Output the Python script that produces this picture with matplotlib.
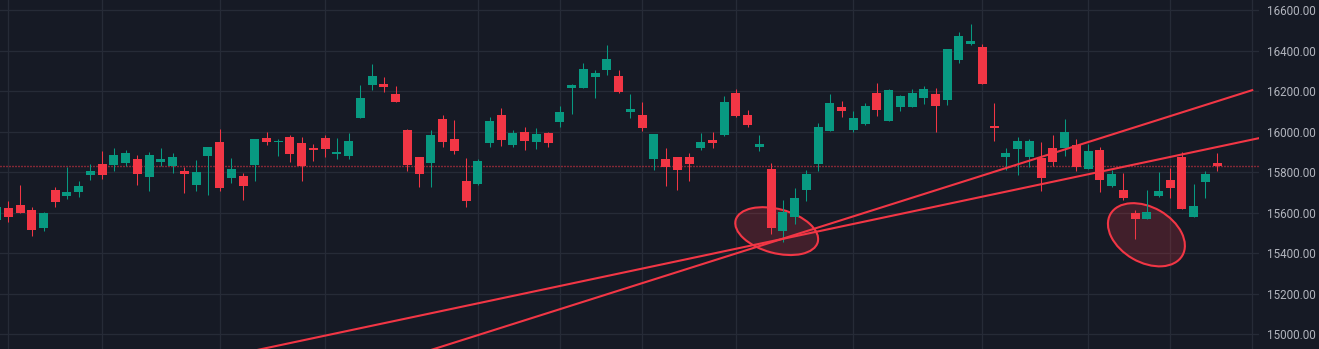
import matplotlib
matplotlib.use("Agg")
import matplotlib.pyplot as plt
import matplotlib.transforms as mtransforms
from matplotlib.patches import Ellipse
import numpy as np

# ---- data ----
opens = [15564, 15624, 15638, 15614, 15525, 15712, 15683, 15703, 15786, 15841,
         15836, 15845, 15865, 15776, 15850, 15832, 15806, 15737, 15880, 15949,
         15771, 15781, 15836, 15969, 15949, 15974, 15944, 15919, 15969, 15890,
         15880, 16067, 16230, 16235, 16186, 16008, 15875, 15845, 16062, 15964,
         15757, 15742, 15944, 16082, 15934, 15998, 15949, 15993, 16048, 16215,
         16215, 16269, 16304, 16274, 16097, 16082, 15865, 15865, 15875, 15875,
         15919, 15959, 15984, 16190, 16082, 15924, 15816, 15510, 15579, 15712,
         15841, 16003, 16121, 16008, 16038, 16190, 16052, 16121, 16121, 16166,
         16186, 16156, 16353, 16432, 16417, 16028, 15875, 15914, 15875, 15870,
         15919, 15919, 15934, 15816, 15910, 15732, 15712, 15599, 15569, 15683,
         15762, 15875, 15579, 15752, 15845]
highs = [15640, 15658, 15737, 15629, 15604, 15727, 15826, 15757, 15841, 15905,
         15919, 15910, 15885, 15900, 15919, 15895, 15826, 15860, 15924, 16013,
         15870, 15796, 15964, 15998, 15964, 15984, 15974, 15939, 15984, 15969,
         15993, 16230, 16334, 16269, 16225, 16013, 15875, 16008, 16082, 16057,
         15870, 15865, 16072, 16117, 16008, 16023, 16018, 15998, 16126, 16235,
         16338, 16304, 16427, 16304, 16186, 16146, 15988, 15919, 15875, 15895,
         15993, 15998, 16176, 16210, 16107, 15984, 15845, 15663, 15722, 15811,
         16043, 16186, 16151, 16102, 16141, 16240, 16210, 16181, 16210, 16225,
         16215, 16407, 16491, 16531, 16432, 16141, 15919, 15974, 15964, 15949,
         15984, 16062, 15964, 15939, 15924, 15811, 15796, 15614, 15712, 15801,
         15821, 15900, 15742, 15806, 15895]
lows = [15550, 15555, 15599, 15486, 15510, 15629, 15668, 15678, 15762, 15767,
        15806, 15831, 15737, 15707, 15831, 15796, 15698, 15707, 15688, 15707,
        15747, 15663, 15757, 15934, 15880, 15850, 15757, 15855, 15875, 15865,
        15865, 16067, 16205, 16195, 16146, 15806, 15727, 15727, 15924, 15890,
        15629, 15737, 15924, 15929, 15924, 15910, 15914, 15924, 16023, 16087,
        16215, 16166, 16279, 16190, 16067, 16003, 15811, 15732, 15712, 15757,
        15910, 15919, 15979, 16072, 16023, 15905, 15495, 15456, 15545, 15658,
        15806, 16003, 16072, 15998, 16033, 16077, 16052, 16102, 16121, 16136,
        15998, 16131, 16338, 16427, 16235, 15954, 15811, 15786, 15826, 15707,
        15831, 15880, 15806, 15816, 15703, 15727, 15663, 15471, 15569, 15678,
        15673, 15619, 15579, 15673, 15806]
closes = [15630, 15579, 15599, 15515, 15599, 15653, 15703, 15732, 15806, 15786,
          15885, 15895, 15791, 15885, 15865, 15875, 15791, 15801, 15924, 15722,
          15816, 15732, 15964, 15949, 15954, 15890, 15831, 15910, 15914, 15900,
          15954, 16166, 16274, 16220, 16146, 15836, 15791, 15984, 15949, 15905,
          15658, 15855, 16052, 15959, 15993, 15954, 15988, 15944, 16097, 16230,
          16309, 16289, 16358, 16195, 16112, 16018, 15988, 15826, 15811, 15841,
          15949, 15944, 16146, 16077, 16033, 15939, 15525, 15604, 15673, 15791,
          16023, 16141, 16102, 16067, 16126, 16107, 16205, 16176, 16190, 16210,
          16126, 16407, 16472, 16447, 16235, 16018, 15895, 15954, 15954, 15771,
          15850, 15998, 15826, 15905, 15762, 15791, 15673, 15569, 15604, 15707,
          15722, 15619, 15633, 15791, 15831]

price_ticks = [15000, 15200, 15400, 15600, 15800, 16000, 16200, 16400, 16600]
time_grid_bars = [1, 9, 19, 28, 41, 48, 55, 63, 73, 84, 93, 100, 107]

# trend lines: (bar, price) endpoints
trend_a = [(20, 14611), (107.07, 16206)]
trend_b = [(10, 14773), (112, 16022)]
# ellipses: center (bar, price), size in pixels, angle
ellipse_centers = [(66.47, 15509), (97.97, 15491)]
ellipse_sizes = [(85, 44), (83, 55)]
ellipse_angles = [-15, -30]

# ---- style ----
BG = "#161a25"
GRID = "#262b37"
UP = "#089981"
DOWN = "#f23645"
TXT = "#b2b5be"

W, H = 1319, 349
fig = plt.figure(figsize=(W / 100, H / 100), dpi=100, facecolor=BG)
ax = fig.add_axes([0, 0, 1258.5 / W, 1])
ax.set_facecolor(BG)

n = len(opens)
x = np.arange(n)
o = np.array(opens, float)
c = np.array(closes, float)
hi = np.array(highs, float)
lo = np.array(lows, float)
colors = np.where(c >= o, UP, DOWN)

# grid
for b in time_grid_bars:
    ax.axvline(b, color=GRID, lw=0.9, zorder=0)
for p in price_ticks:
    ax.axhline(p, color=GRID, lw=0.9, zorder=0)

# ellipses (under candles)
for (cx, cy), (w, h), ang in zip(ellipse_centers, ellipse_sizes, ellipse_angles):
    tr = mtransforms.IdentityTransform() + mtransforms.ScaledTranslation(cx, cy, ax.transData)
    ax.add_patch(Ellipse((0, 0), w, h, angle=ang, transform=tr,
                         facecolor=(242/255, 54/255, 69/255, 0.2),
                         edgecolor=DOWN, lw=1.5, zorder=1))

# candles
ax.vlines(x, lo, hi, colors=colors, lw=0.75, zorder=2)
body_bottom = np.minimum(o, c)
body_h = np.maximum(np.abs(c - o), 5)
ax.bar(x, body_h, bottom=body_bottom, width=0.767, color=colors,
       linewidth=0, zorder=3)

# trend lines
for line in (trend_a, trend_b):
    (x0, y0), (x1, y1) = line
    ax.plot([x0, x1], [y0, y1], color=DOWN, lw=1.5, solid_capstyle="butt", zorder=4)

# last price line (dotted)
ax.axhline(closes[-1], color=DOWN, lw=1.0, linestyle=(0, (0.72, 1.44)), zorder=1.5)

ax.set_xlim(0.293, 107.52)
ax.set_ylim(14927.4, 16649.3)
for s in ax.spines.values():
    s.set_visible(False)
ax.set_xticks([])
ax.yaxis.tick_right()
ax.set_yticks(price_ticks)
ax.set_yticklabels([f"{p:.2f}" for p in price_ticks])
ax.tick_params(axis="y", length=0, pad=6, labelsize=8.4, labelcolor=TXT)
for lbl in ax.get_yticklabels():
    lbl.set_fontfamily("Roboto")

fig.savefig("out.png", dpi=100, facecolor=BG)
